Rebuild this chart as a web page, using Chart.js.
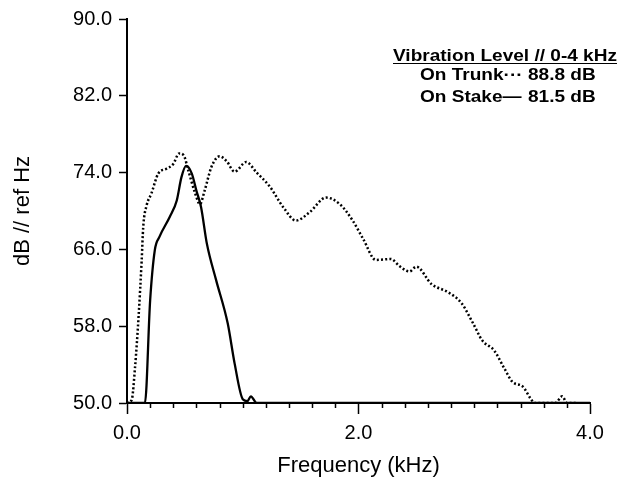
<!DOCTYPE html>
<html>
<head>
<meta charset="utf-8">
<script src="https://cdn.jsdelivr.net/npm/chart.js@4"></script>
<style>
  html, body { margin: 0; padding: 0; background: #fff; }
  #wrap { position: relative; width: 620px; height: 485px; }
  #legend { position: absolute; left: 0; top: 0; width: 620px; height: 485px; pointer-events: none;
            font-family: "Liberation Sans", Arial, sans-serif; font-weight: bold; color: #000; }
  #legend div { position: absolute; white-space: nowrap; font-size: 17px; line-height: 20px; transform-origin: 0 0; transform: scaleX(1.12); }
  #legend .ttl { left: 393px; top: 46px; text-decoration: underline; text-underline-offset: 2px; }
  #legend .row { left: 420px; }
  #legend .val { left: 528px; }
</style>
</head>
<body>
<div id="wrap">
  <canvas id="c" width="620" height="485"></canvas>
  <div id="legend"></div>
</div>
<script>
// ---- data ----
const trunkFreq = [0.00,0.04,0.07,0.10,0.127,0.14,0.17,0.21,0.27,0.34,0.40,0.45,0.49,0.53,0.59,0.63,0.67,0.73,0.80,0.86,0.93,1.03,1.12,1.23,1.35,1.46,1.58,1.72,1.84,1.95,2.04,2.15,2.28,2.35,2.44,2.50,2.63,2.78,2.89,2.99,3.07,3.17,3.26,3.33,3.42,3.49,3.52,3.70,3.76,3.80,3.88];
const trunkDb   = [50.0,50.3,53.8,59.0,64.9,68.3,70.6,71.8,73.9,74.4,74.9,76.0,75.8,74.2,71.8,70.7,72.1,74.6,75.7,75.2,74.1,75.1,74.0,72.6,70.4,69.0,69.9,71.4,70.7,69.0,67.1,64.9,65.0,64.3,63.7,64.2,62.4,61.5,60.4,58.3,56.5,55.5,53.6,52.2,51.7,50.4,50.0,50.0,50.7,50.0,50.0];
const stakeFreq = [0.00,0.14,0.155,0.20,0.24,0.28,0.37,0.43,0.47,0.51,0.56,0.60,0.64,0.69,0.77,0.87,0.93,1.00,1.04,1.07,1.12,4.00];
const stakeDb   = [50.0,50.0,50.0,60.7,65.9,67.3,69.4,71.1,73.5,74.7,73.9,72.1,70.4,66.6,62.8,58.3,54.1,50.4,50.2,50.7,50.0,50.0];
const yTicks = [50, 58, 66, 74, 82, 90];
const xMajorTicks = [0, 2, 4];
const xMinorStep = 0.2;
const legendTitle = "Vibration Level // 0-4 kHz";
const legendNames = ["On Trunk\u00B7\u00B7\u00B7", "On Stake\u2014"];
const legendValues = ["88.8 dB", "81.5 dB"];
const xTitle = "Frequency (kHz)";
const yTitle = "dB // ref Hz";

// legend as real text
const lg = document.getElementById('legend');
const t = document.createElement('div'); t.className = 'ttl'; t.textContent = legendTitle; lg.appendChild(t);
legendNames.forEach((n, i) => {
  const r = document.createElement('div'); r.className = 'row'; r.style.top = (65 + i * 22) + 'px'; r.textContent = n; lg.appendChild(r);
  const v = document.createElement('div'); v.className = 'val'; v.style.top = (65 + i * 22) + 'px'; v.textContent = legendValues[i]; lg.appendChild(v);
});

const toPts = (xs, ys) => xs.map((x, i) => ({ x: x, y: ys[i] }));

const minorTicks = {
  id: 'minorTicks',
  afterDraw(chart) {
    const xs = chart.scales.x, ctx = chart.ctx;
    const y0 = chart.chartArea.bottom;
    ctx.save();
    ctx.strokeStyle = '#000';
    ctx.lineWidth = 1.5;
    for (let v = xMinorStep; v < 4 - 1e-6; v += xMinorStep) {
      if (xMajorTicks.some(m => Math.abs(m - v) < 1e-6)) continue;
      const px = Math.round(xs.getPixelForValue(v)) + 0.5;
      ctx.beginPath(); ctx.moveTo(px, y0); ctx.lineTo(px, y0 + 5); ctx.stroke();
    }
    ctx.restore();
  }
};

const fam = '"Liberation Sans", Arial, sans-serif';

new Chart(document.getElementById('c'), {
  type: 'line',
  data: {
    datasets: [
      { label: 'On Trunk', data: toPts(trunkFreq, trunkDb), borderColor: '#000', borderWidth: 2.5,
        borderDash: [2, 2.2], pointRadius: 0, cubicInterpolationMode: 'monotone', fill: false },
      { label: 'On Stake', data: toPts(stakeFreq, stakeDb), borderColor: '#000', borderWidth: 2.3,
        pointRadius: 0, cubicInterpolationMode: 'monotone', fill: false }
    ]
  },
  options: {
    responsive: false,
    animation: false,
    layout: { padding: { top: 19, right: 30, left: 0, bottom: 0 } },
    plugins: { legend: { display: false }, tooltip: { enabled: false } },
    scales: {
      x: {
        type: 'linear', min: 0, max: 4,
        afterBuildTicks: s => { s.ticks = xMajorTicks.map(v => ({ value: v })); },
        afterFit: s => { s.height = 82; },
        ticks: { color: '#000', font: { family: fam, size: 20 }, padding: 7, maxRotation: 0, callback: v => v.toFixed(1) },
        grid: { drawOnChartArea: false, tickLength: 11, tickWidth: 1.5, tickColor: '#000' },
        border: { color: '#000', width: 2 },
        title: { display: true, text: xTitle, color: '#000', font: { family: fam, size: 22 }, padding: { top: 0, bottom: 6 } }
      },
      y: {
        min: 50, max: 90,
        afterBuildTicks: s => { s.ticks = yTicks.map(v => ({ value: v })); },
        afterFit: s => { s.width = 127; },
        ticks: { color: '#000', font: { family: fam, size: 20 }, padding: 7, callback: v => v.toFixed(1) },
        grid: { drawOnChartArea: false, tickLength: 8, tickWidth: 1.5, tickColor: '#000' },
        border: { color: '#000', width: 2 },
        title: { display: true, text: yTitle, color: '#000', font: { family: fam, size: 22 }, padding: { top: 10, bottom: 0 } }
      }
    }
  },
  plugins: [minorTicks]
});
</script>
</body>
</html>
